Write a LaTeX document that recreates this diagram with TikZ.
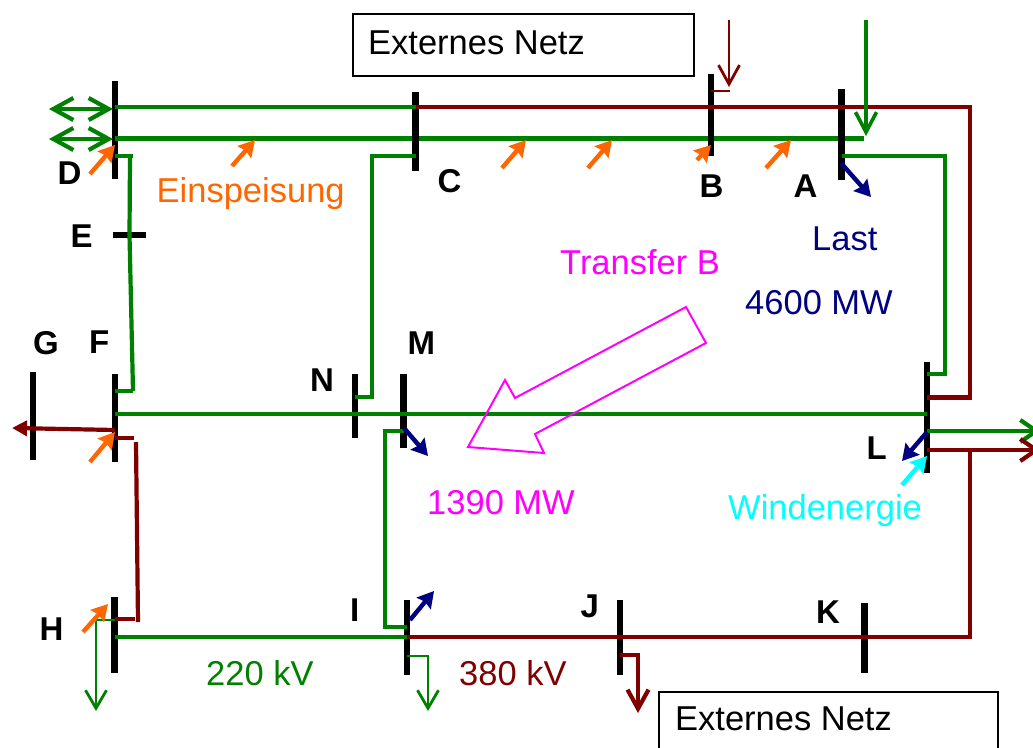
\documentclass[tikz,border=0pt]{standalone}
\usepackage{fontspec}
\setmainfont{Liberation Sans}
\usetikzlibrary{arrows.meta}
\definecolor{lgreen}{RGB}{0,128,0}
\definecolor{lred}{RGB}{128,0,0}
\definecolor{lblue}{RGB}{0,0,128}
\definecolor{lorange}{RGB}{255,102,0}
\definecolor{lmagenta}{RGB}{255,0,255}
\definecolor{lcyan}{RGB}{0,255,255}
\tikzset{
  bus/.style={fill=black,draw=none,shape=rectangle,inner sep=0pt,minimum width=6.4pt},
  hbus/.style={fill=black,draw=none,shape=rectangle,inner sep=0pt,minimum height=6pt},
  gline/.style={draw=lgreen,line width=4.2pt,line join=miter},
  rline/.style={draw=lred,line width=4.2pt,line join=miter},
  gthin/.style={draw=lgreen,line width=2.8pt},
  rthin/.style={draw=lred,line width=2.8pt},
  openhead/.style={-{Straight Barb[length=#1pt,width=21pt]}},
  inj/.style={line width=4.4pt,-{Stealth[length=16pt,width=18pt,inset=2pt]}},
  txt/.style={anchor=base west,inner sep=0pt,font=\fontsize{34.5}{40}\selectfont},
  lab/.style={anchor=base west,inner sep=0pt,font=\fontsize{33}{40}\selectfont\bfseries},
  netbox/.style={draw=black,line width=1.8pt,fill=white,inner sep=0pt,anchor=north west},
}
\begin{document}
\begin{tikzpicture}[x=1pt,y=-1pt]
\useasboundingbox (0,0) rectangle (1033,747);
\clip (0,0) rectangle (1033,747);
% free ends
\coordinate (dblA) at (49,109);
\coordinate (dblB) at (49,139);
\coordinate (dtipA) at (113,109);
\coordinate (dtipB) at (113,139);
\coordinate (rTop) at (729,20);
\coordinate (rTopTip) at (729,87);
\coordinate (gTop) at (866,20);
\coordinate (gTopTip) at (866,136);
\coordinate (gEast) at (1040,431);
\coordinate (rEast) at (1040,450);
\coordinate (gWest) at (12,428);
\coordinate (hTip) at (96,711);
\coordinate (iTip) at (428,711);
\coordinate (jTip) at (638,713);
% second 220 kV line, behind the busbars
\node[bus,minimum height=98pt] (D) at (115,130) {};
\coordinate (Aend) at (864,138.5);
\draw[gline] (115,138.5) -- (Aend);
% busbars
\node[bus,minimum height=88pt] (G) at (33,416) {};
\node[bus,minimum height=88pt] (F) at (115,418) {};
\node[hbus,minimum width=33pt] (E) at (129.5,235) {};
\node[bus,minimum height=79pt] (C) at (415.5,131.5) {};
\node[bus,minimum height=82pt] (B) at (711,115) {};
\node[bus,minimum height=91pt] (A) at (841.5,134.5) {};
\node[bus,minimum height=111pt] (L) at (927,417.5) {};
\node[bus,minimum height=64pt] (N) at (355,406) {};
\node[bus,minimum height=74pt] (M) at (403.5,411) {};
\node[bus,minimum height=76pt] (H) at (114.5,635) {};
\node[bus,minimum height=75pt] (I) at (407,637.5) {};
\node[bus,minimum height=75pt] (J) at (620,637.5) {};
\node[bus,minimum height=70pt] (K) at (864.5,638) {};
% lines
\draw[gline] (D |- 0,107) -- (C |- 0,107);
\draw[rline] (C |- 0,107) -- (970,107) -- (970,397.5) -- (L |- 0,397.5);
\draw[gline] (C |- 0,156) -- (372,156) -- (372,397) -- (N |- 0,397);
\draw[gline] (D |- 0,156) -- (133,156);
\draw[gline] (130,156) -- (E.center) -- (133,391);
\draw[gline] (F |- 0,391) -- (133,391);
\draw[gline] (A |- 0,156) -- (945,156) -- (945,374) -- (L |- 0,374);
\draw[gline] (F |- 0,414) -- (L |- 0,414);
\draw[gline,-{Straight Barb[length=16pt,width=22pt]}] (L |- 0,431) -- (gEast);
\draw[rline,-{Straight Barb[length=16pt,width=22pt]}] (L |- 0,450) -- (rEast);
\draw[rline] (970,450) -- (970,637) -- (I |- 0,637);
\draw[gline] (M |- 0,431) -- (385,431) -- (385,627) -- (I |- 0,627);
\draw[gline] (H |- 0,637) -- (I |- 0,637);
\draw[rline] (F |- 0,438) -- (134,438);
\draw[rline] (136,442) -- (138,622);
\draw[rline] (H |- 0,619) -- (135,619);
% busbar exits with open heads
\draw[gthin,openhead=18] (H |- 0,620) -- (96,620) -- (hTip);
\draw[gthin,openhead=18] (I |- 0,656) -- (428,656) -- (iTip);
\draw[rline,openhead=19] (J |- 0,655) -- (638,655) -- (jTip);
\draw[rthin] (B |- 0,91) -- (730,91);
\draw[rthin,openhead=19] (rTop) -- (rTopTip);
\draw[gthin,line width=3.6pt,openhead=20] (gTop) -- (gTopTip);
\draw[gline,{Straight Barb[length=20pt,width=22pt]}-{Straight Barb[length=20pt,width=22pt]}] (dblA) -- (dtipA);
\draw[gline,{Straight Barb[length=20pt,width=22pt]}-{Straight Barb[length=20pt,width=22pt]}] (dblB) -- (dtipB);
\draw[rline,-{Triangle[length=15pt,width=15pt]}] (F |- 0,430) -- (gWest);
% injections
\coordinate (o1) at (90,174);   \coordinate (o1t) at (115,145);
\coordinate (o2) at (232,166);  \coordinate (o2t) at (255,140);
\coordinate (o3) at (502,168);  \coordinate (o3t) at (526,140);
\coordinate (o4) at (588,168);  \coordinate (o4t) at (612,140);
\coordinate (o5) at (697,160);  \coordinate (o5t) at (711,145);
\coordinate (o6) at (766,168);  \coordinate (o6t) at (791,140);
\coordinate (o7) at (90,462);   \coordinate (o7t) at (115,432);
\coordinate (o8) at (83,632);   \coordinate (o8t) at (108,604);
\foreach \a in {1,...,8} {\draw[inj,draw=lorange,fill=lorange] (o\a) -- (o\a t);}
\coordinate (b1) at (841,163);  \coordinate (b1t) at (871,197);
\coordinate (b2) at (404,428);  \coordinate (b2t) at (428,456);
\coordinate (b3) at (410,620);  \coordinate (b3t) at (434,591);
\coordinate (b4) at (927,432);  \coordinate (b4t) at (902,461);
\foreach \a in {1,...,4} {\draw[inj,draw=lblue,fill=lblue] (b\a) -- (b\a t);}
\coordinate (c1) at (902,485);  \coordinate (c1t) at (927,456);
\draw[inj,draw=lcyan,fill=lcyan] (c1) -- (c1t);
% transfer arrow
\draw[draw=lmagenta,line width=2pt,line join=miter] (686,307) -- (706,343) -- (535,434) -- (544,453) -- (468,447) -- (505,380) -- (515,398) -- cycle;
% boxes
\node[netbox,minimum width=341pt,minimum height=62pt] (net1) at (352,13) {};
\node[netbox,minimum width=339pt,minimum height=80pt] (net2) at (658,691) {};
\node[txt] (t1) at (368,54) {Externes Netz};
\node[txt] (t2) at (675,730) {Externes Netz};
\node[txt,text=lorange] (t3) at (156.5,202) {Einspeisung};
\node[txt,text=lblue] (t4) at (812,250) {Last};
\node[txt,text=lblue] (t5) at (745,314) {4600 MW};
\node[txt,text=lmagenta] (t6) at (560,274) {Transfer B};
\node[txt,text=lmagenta] (t7) at (427,514) {1390 MW};
\node[txt,text=lcyan] (t8) at (728,519) {Windenergie};
\node[txt,text=lgreen] (t9) at (206,685) {220 kV};
\node[txt,text=lred] (t10) at (459,685) {380 kV};
% bus names
\node[lab] (lD) at (57.5,184) {D};
\node[lab] (lE) at (70.5,247) {E};
\node[lab] (lC) at (437.5,192) {C};
\node[lab] (lB) at (699.5,197) {B};
\node[lab] (lA) at (793.5,197) {A};
\node[lab] (lG) at (33,354) {G};
\node[lab] (lF) at (89,353.5) {F};
\node[lab] (lN) at (310,391) {N};
\node[lab] (lM) at (407.5,354) {M};
\node[lab] (lL) at (866.5,459) {L};
\node[lab] (lH) at (39.5,640) {H};
\node[lab] (lI) at (350,621) {I};
\node[lab] (lJ) at (580.5,617) {J};
\node[lab] (lK) at (816,623) {K};
\end{tikzpicture}
\end{document}
